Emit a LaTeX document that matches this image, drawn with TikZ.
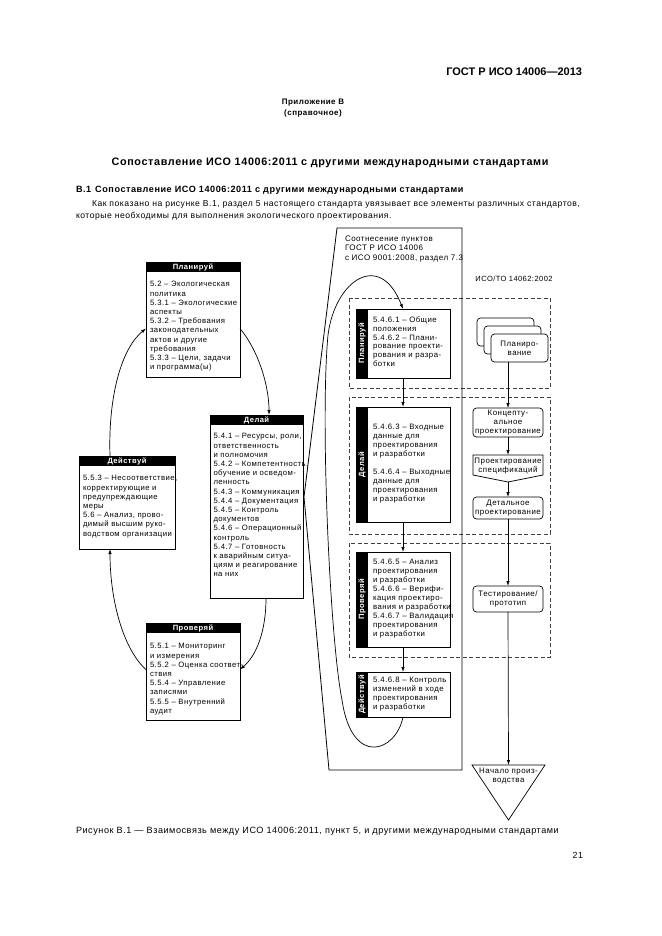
\documentclass[tikz,border=0pt]{standalone}
\usepackage{fontspec}
\setmainfont{Liberation Sans}[LetterSpace=6]
\newfontfamily\plainfont{Liberation Sans}
\usetikzlibrary{calc,arrows.meta}
\begin{document}
\begin{tikzpicture}[x=1pt,y=-1pt,
  every node/.style={inner sep=0pt, outer sep=0pt},
  ltxt/.style={font=\fontsize{7.7}{9.2}\selectfont, align=left, anchor=north west},
  mtxt/.style={font=\fontsize{7.8}{8.9}\selectfont, align=left, anchor=north west},
  pdca/.style={draw, line width=0.9pt, anchor=north west, fill=white},
  hdr/.style={fill=black, text=white, font=\fontsize{7.6}{9}\selectfont\bfseries, anchor=north west, minimum height=10pt},
  band/.style={fill=black, anchor=north west, minimum width=12pt},
  vlab/.style={text=white, font=\fontsize{7.6}{9}\selectfont\bfseries, rotate=90},
  arr/.style={-{Latex[length=5pt,width=3.4pt]}, line width=0.7pt},
  dbox/.style={draw=black!75, dash pattern=on 4pt off 2.5pt, line width=0.6pt},
  rbox/.style={draw, rounded corners=3.5pt, line width=0.7pt, fill=white, font=\fontsize{7.9}{9}\selectfont, align=center, minimum width=70pt},
]
\useasboundingbox (0,0) rectangle (661,936);

% ---------- header texts ----------
\node[anchor=base east, font=\plainfont\fontsize{11}{13}\selectfont\bfseries] (gost) at (582,76) {ГОСТ Р ИСО 14006—2013};
\node[font=\fontsize{8}{11}\selectfont\bfseries, align=center] (app) at (313,108) {Приложение В\\(справочное)};
\node[anchor=base, font=\fontsize{10.8}{12}\selectfont\bfseries] (title) at (330,166) {Сопоставление ИСО 14006:2011 с другими международными стандартами};
\node[anchor=base west, font=\fontsize{9.1}{10}\selectfont\bfseries] (sec) at (76,193) {В.1\hspace{4pt}Сопоставление ИСО 14006:2011 с другими международными стандартами};
\node[anchor=base west, font=\fontsize{8.6}{10}\selectfont] (p1) at (92,206) {Как показано на рисунке В.1, раздел 5 настоящего стандарта увязывает все элементы различных стандартов,};
\node[anchor=base west, font=\fontsize{8.6}{10}\selectfont] (p2) at (76,218) {которые необходимы для выполнения экологического проектирования.};

% ---------- dashed regions ----------
\draw[dbox] (349,298) rectangle (550,388);
\draw[dbox] (349,397) rectangle (550,534);
\draw[dbox] (349,543) rectangle (550,657);

% ---------- middle frame ----------
\draw[line width=0.8pt] (337,228) -- (462,228) -- (462,770) -- (329,770) -- (304,497) -- cycle;
\node[anchor=north west, font=\fontsize{8}{9.8}\selectfont, align=left] (rel) at (345,235.5) {Соотнесение пунктов\\ГОСТ Р ИСО 14006\\с ИСО 9001:2008, раздел 7.3};
\node[anchor=base, font=\fontsize{7.5}{9}\selectfont] (iso) at (514,281) {ИСО/ТО 14062:2002};

% ---------- left PDCA boxes ----------
\node[pdca, minimum width=94pt, minimum height=115pt] (plan) at (146,262) {};
\node[hdr, minimum width=94pt] (planh) at (146,262) {Планируй};
\node[ltxt] (plant) at (150,281.5) {5.2 – Экологическая\\политика\\5.3.1 – Экологические\\аспекты\\5.3.2 – Требования\\законодательных\\актов и другие\\требования\\5.3.3 – Цели, задачи\\и программа(ы)};

\node[pdca, minimum width=93pt, minimum height=183pt] (do) at (210,415) {};
\node[hdr, minimum width=93pt] (doh) at (210,415) {Делай};
\node[ltxt] (dot) at (213.5,433.5) {5.4.1 – Ресурсы, роли,\\ответственность\\и полномочия\\5.4.2 – Компетентность,\\обучение и осведом-\\ленность\\5.4.3 – Коммуникация\\5.4.4 – Документация\\5.4.5 – Контроль\\документов\\5.4.6 – Операционный\\контроль\\5.4.7 – Готовность\\к аварийным ситуа-\\циям и реагирование\\на них};

\node[pdca, minimum width=96pt, minimum height=93pt] (act) at (79,456) {};
\node[hdr, minimum width=96pt] (acth) at (79,456) {Действуй};
\node[ltxt] (actt) at (83,475.5) {5.5.3 – Несоответствие,\\корректирующие и\\предупреждающие\\меры\\5.6 – Анализ, прово-\\димый высшим руко-\\водством организации};

\node[pdca, minimum width=94pt, minimum height=97pt] (chk) at (146,623) {};
\node[hdr, minimum width=94pt] (chkh) at (146,623) {Проверяй};
\node[ltxt] (chkt) at (150,643.5) {5.5.1 – Мониторинг\\и измерения\\5.5.2 – Оценка соответ-\\ствия\\5.5.4 – Управление\\записями\\5.5.5 – Внутренний\\аудит};

% ---------- left cycle arrows ----------
\draw[arr] ($(act.north west)+(31,0)$) .. controls (108,395) and (122,348) .. ($(plan.west)+(0,9)$);
\draw[arr] ($(plan.east)+(0,9)$) .. controls (258,350) and (269,385) .. ($(do.north west)+(59,0)$);
\draw[arr] ($(do.south west)+(56,0)$) .. controls (266,632) and (256,656) .. ($(chk.east)+(0,-2)$);
\draw[arr] ($(chk.west)+(0,-2)$) .. controls (124,650) and (110,602) .. ($(act.south west)+(31,0)$);

% ---------- middle boxes ----------
\node[pdca, minimum width=94pt, minimum height=69pt] (mplan) at (356,309) {};
\node[band, minimum height=69pt] (mplanb) at (356,309) {};
\node[vlab] at (mplanb.center) {Планируй};
\node[mtxt] (mplant) at (373,316.5) {5.4.6.1 – Общие\\положения\\5.4.6.2 – Плани-\\рование проекти-\\рования и разра-\\ботки};

\node[pdca, minimum width=94pt, minimum height=115pt] (mdo) at (356,407) {};
\node[band, minimum height=115pt] (mdob) at (356,407) {};
\node[vlab] at (mdob.center) {Делай};
\node[mtxt] (mdot) at (373,424.5) {5.4.6.3 – Входные\\данные для\\проектирования\\и разработки\\[9pt]5.4.6.4 – Выходные\\данные для\\проектирования\\и разработки};

\node[pdca, minimum width=94pt, minimum height=95pt] (mchk) at (356,552) {};
\node[band, minimum height=95pt] (mchkb) at (356,552) {};
\node[vlab] at (mchkb.center) {Проверяй};
\node[mtxt] (mchkt) at (373,559.5) {5.4.6.5 – Анализ\\проектирования\\и разработки\\5.4.6.6 – Верифи-\\кация проектиро-\\вания и разработки\\5.4.6.7 – Валидация\\проектирования\\и разработки};

\node[pdca, minimum width=94pt, minimum height=45pt] (mact) at (356,672) {};
\node[band, minimum height=45pt] (mactb) at (356,672) {};
\node[vlab] at (mactb.center) {Действуй};
\node[mtxt] (mactt) at (373,677.5) {5.4.6.8 – Контроль\\изменений в ходе\\проектирования\\и разработки};

\draw[arr] (mplan.south) -- (mdo.north);
\draw[arr] (mdo.south) -- (mchk.north);
\draw[arr] (mchk.south) -- (mact.north);
\draw[arr] (mact.south) .. controls (396,752) and (352,768) .. (342,700)
  .. controls (330,640) and (320,420) .. (328,335)
  .. controls (335,280) and (380,250) .. (mplan.north);

% ---------- right column ----------
\node[rbox, minimum width=57pt, minimum height=28pt, anchor=north west] (pb1) at (477,318) {};
\node[rbox, minimum width=57pt, minimum height=28pt, anchor=north west] (pb2) at (484,326) {};
\node[rbox, minimum width=57pt, minimum height=28pt, anchor=north west] (pb3) at (491,334) {Планиро-\\вание};

\node[rbox, minimum height=29pt, anchor=north] (conc) at (508,408) {Концепту-\\альное\\проектирование};
\draw[line width=0.7pt] (473,455) -- (543,455) -- (543,475) -- (508,482) -- (473,475) -- cycle;
\coordinate (specN) at (508,455);
\coordinate (specS) at (508,482);
\node[font=\fontsize{7.9}{9}\selectfont, align=center] (spec) at (508,466) {Проектирование\\спецификаций};
\node[rbox, minimum height=22pt, anchor=north] (det) at (508,497) {Детальное\\проектирование};
\node[rbox, minimum height=26pt, anchor=north] (test) at (508,586) {Тестирование/\\прототип};
\draw[line width=0.7pt] (472,765) -- (545,765) -- (508.5,820) -- cycle;
\coordinate (triN) at (508.5,765);
\node[font=\fontsize{7.9}{9}\selectfont, align=center] (start) at (508.5,776) {Начало произ-\\водства};

\draw[arr] (pb3.south -| conc.north) -- (conc.north);
\draw[arr] (conc.south) -- (specN);
\draw[arr] (specS) -- (det.north);
\draw[arr] (det.south) -- (test.north);
\draw[arr] (test.south) -- (triN);

% ---------- caption ----------
\node[anchor=base west, font=\fontsize{9.1}{10}\selectfont] (cap) at (76,833) {Рисунок В.1 — Взаимосвязь между ИСО 14006:2011, пункт 5, и другими международными стандартами};
\node[anchor=base east, font=\fontsize{8.8}{10}\selectfont] (pg) at (583,858) {21};
\end{tikzpicture}
\end{document}
